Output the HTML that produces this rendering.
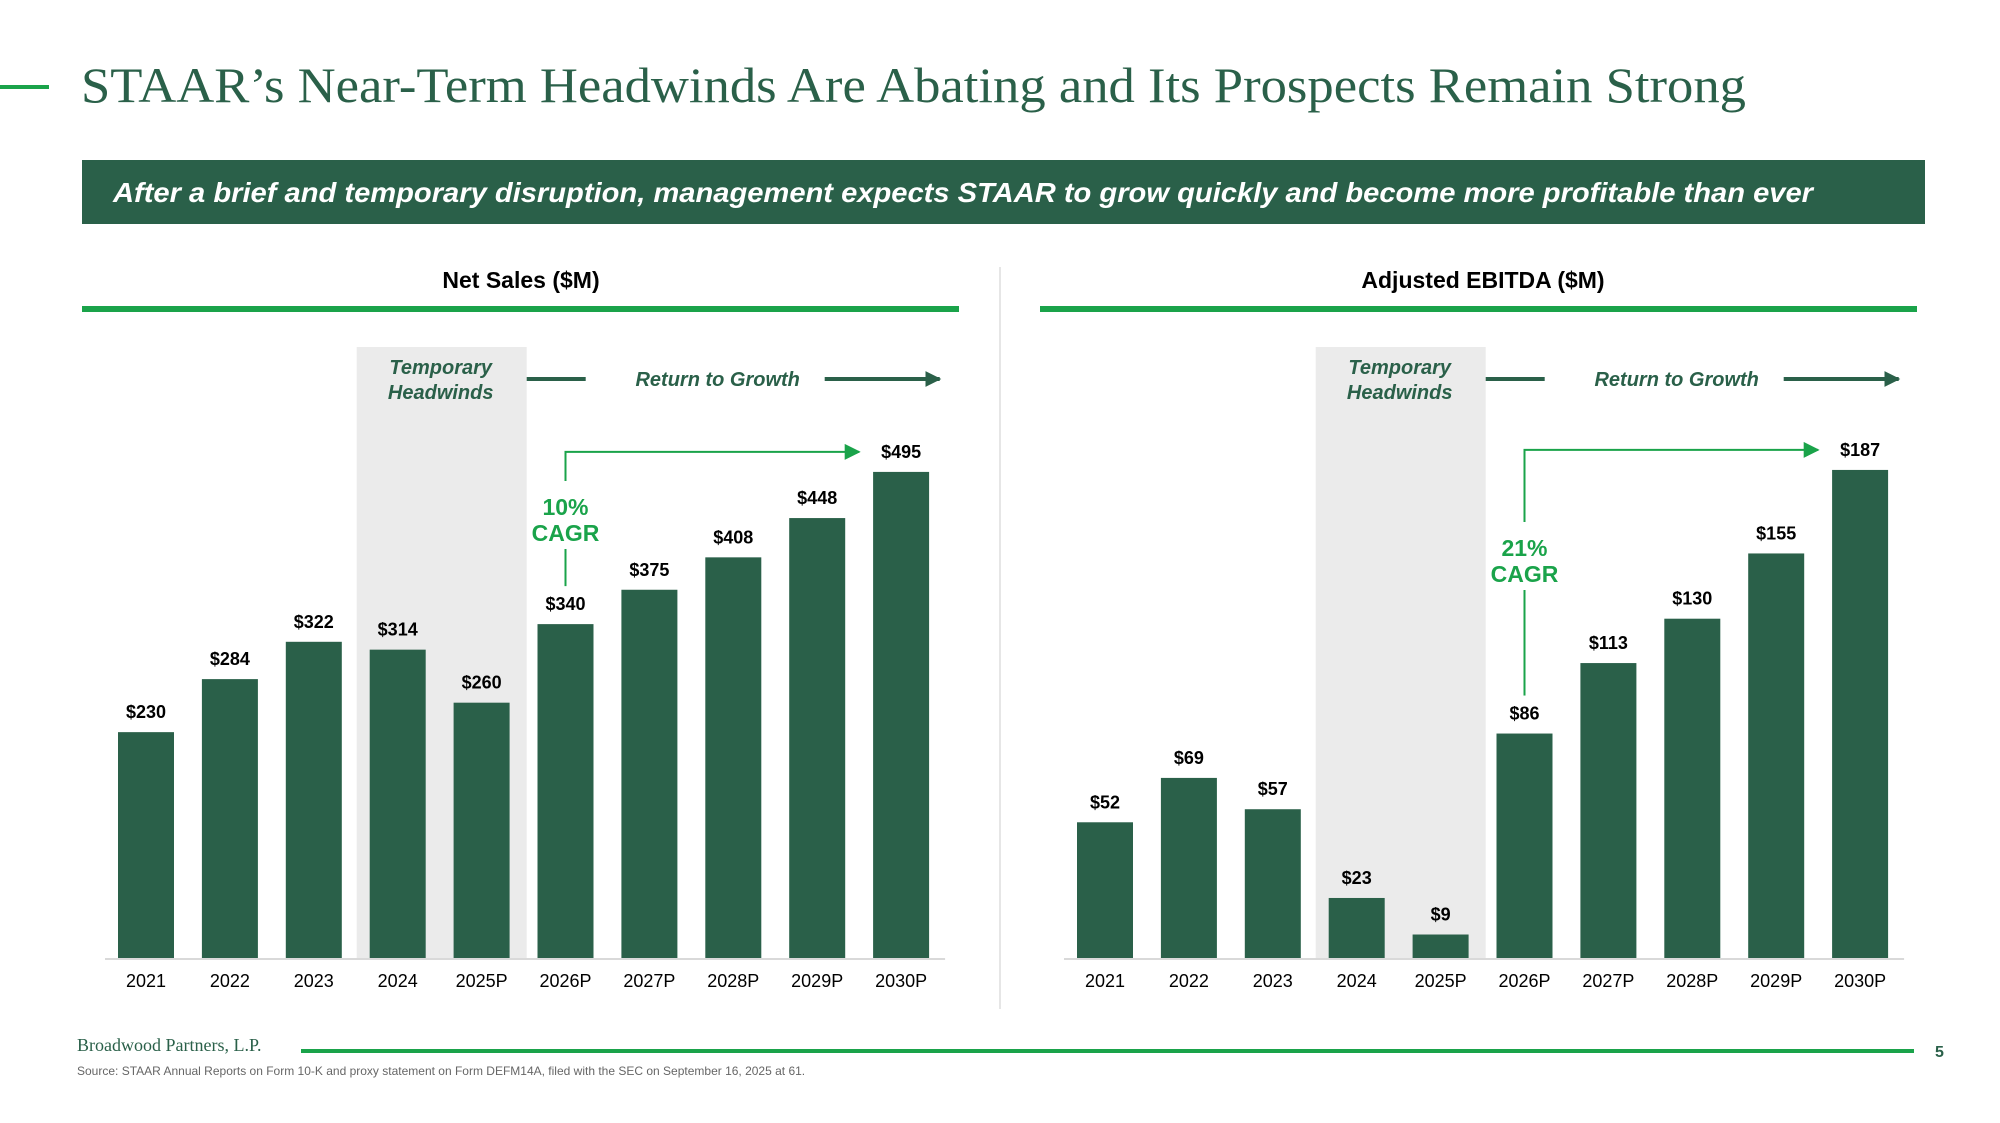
<!DOCTYPE html>
<html><head><meta charset="utf-8"><style>
html,body{margin:0;padding:0;background:#fff;width:2000px;height:1123px;overflow:hidden}
svg text{font-family:"Liberation Sans",sans-serif}
</style></head><body>
<svg id="s" width="2000" height="1123" viewBox="0 0 2000 1123" xmlns="http://www.w3.org/2000/svg">
<defs>
<marker id="ad" viewBox="0 0 10 10" refX="9" refY="5" markerWidth="4" markerHeight="4" orient="auto"><path d="M0,0L10,5L0,10z" fill="#2a6049"/></marker>
<marker id="ag" viewBox="0 0 10 10" refX="9" refY="5" markerWidth="8" markerHeight="8" orient="auto"><path d="M0,0L10,5L0,10z" fill="#1aa34a"/></marker>
</defs>
<rect x="0" y="85" width="49" height="4" fill="#1aa34a"/>
<text x="81" y="102" font-size="50" fill="#2a6049" textLength="1665" lengthAdjust="spacingAndGlyphs" style="font-family:'Liberation Serif',serif">STAAR’s Near-Term Headwinds Are Abating and Its Prospects Remain Strong</text>
<rect x="82" y="160" width="1843" height="64" fill="#2a6049"/>
<text x="113" y="202" font-size="28" font-weight="bold" font-style="italic" fill="#fff" textLength="1700" lengthAdjust="spacingAndGlyphs">After a brief and temporary disruption, management expects STAAR to grow quickly and become more profitable than ever</text>
<line x1="1000" y1="267" x2="1000" y2="1009" stroke="#e6e6e6" stroke-width="2"/>
<g id="charts"></g>
<text x="77" y="1051" font-size="18" fill="#2a6049" style="font-family:'Liberation Serif',serif">Broadwood Partners, L.P.</text>
<rect x="301" y="1049" width="1613" height="4" fill="#1aa34a"/>
<text x="1935" y="1057" font-size="16" font-weight="bold" fill="#2a6049">5</text>
<text x="77" y="1075" font-size="12" fill="#666">Source: STAAR Annual Reports on Form 10-K and proxy statement on Form DEFM14A, filed with the SEC on September 16, 2025 at 61.</text>
</svg>
<script>
const categories = ["2021","2022","2023","2024","2025P","2026P","2027P","2028P","2029P","2030P"];
const netSales = [230,284,322,314,260,340,375,408,448,495];
const ebitda = [52,69,57,23,9,86,113,130,155,187];
const netSalesLabels = ["$230","$284","$322","$314","$260","$340","$375","$408","$448","$495"];
const ebitdaLabels = ["$52","$69","$57","$23","$9","$86","$113","$130","$155","$187"];
const cagrLabels = ["10%","21%"];

const NS = "http://www.w3.org/2000/svg";
const root = document.getElementById('charts');
function el(tag, attrs, parent, txt){
  const e = document.createElementNS(NS, tag);
  for (const k in attrs) e.setAttribute(k, attrs[k]);
  if (txt !== undefined) e.textContent = txt;
  (parent || root).appendChild(e);
  return e;
}
function drawChart(cfg){
  const g = el('g', {});
  
  
  const base = 958, step = 83.9, bw = 56;
  const xc = i => cfg.x0 + i * step;
  const yv = v => base - v * cfg.scale;
  const t = el('text', {x: cfg.titleX, y: 288, 'font-size': 23, 'font-weight': 'bold', 'text-anchor': 'middle', fill: '#000'}, g, cfg.title);
  
  
  const r = el('rect', {x: cfg.ruleX, y: 306, width: 877, height: 6, fill: '#1aa34a'}, g);
  
  
  const band = el('rect', {x: xc(3) - 41, y: 347, width: 170, height: base - 347, fill: '#ebebeb'}, g);
  
  
  const h1 = el('text', {x: xc(3) + 43, y: 374, 'font-size': 20, 'font-weight': 'bold', 'font-style': 'italic', fill: '#2a6049', 'text-anchor': 'middle'}, g, 'Temporary');
  
  
  const h2 = el('text', {x: xc(3) + 43, y: 399, 'font-size': 20, 'font-weight': 'bold', 'font-style': 'italic', fill: '#2a6049', 'text-anchor': 'middle'}, g, 'Headwinds');
  
  
  const l1 = el('line', {x1: xc(3) + 129, y1: 379, x2: xc(3) + 188, y2: 379, stroke: '#2a6049', 'stroke-width': 4}, g);
  
  
  const rg = el('text', {x: xc(3) + 320, y: 386, 'font-size': 20, 'font-weight': 'bold', 'font-style': 'italic', fill: '#2a6049', 'text-anchor': 'middle'}, g, 'Return to Growth');
  
  
  const l2 = el('line', {x1: xc(3) + 427, y1: 379, x2: xc(3) + 542, y2: 379, stroke: '#2a6049', 'stroke-width': 4, 'marker-end': 'url(#ad)'}, g);
  
  
  const ax = el('line', {x1: cfg.x0 - 41, y1: base + 1, x2: xc(9) + 44, y2: base + 1, stroke: '#d9d9d9', 'stroke-width': 2}, g);
  
  
  cfg.values.forEach((v, i) => {
    const b = el('rect', {x: xc(i) - bw/2, y: yv(v), width: bw, height: v * cfg.scale, fill: '#2a6049'}, g);
    
    
    const vl = el('text', {x: xc(i), y: yv(v) - 14, 'font-size': 18, 'font-weight': 'bold', 'text-anchor': 'middle', fill: '#000'}, g, cfg.labels[i]);
    
    
    const cl = el('text', {x: xc(i), y: 987, 'font-size': 18, 'text-anchor': 'middle', fill: '#000'}, g, categories[i]);
    
    
  });
  const cx = xc(5), topY = 452;
  const lastTop = yv(cfg.values[9]);
  const arrowY = Math.min(topY, lastTop - 20);
  const p = el('path', {d: `M${cx},${cfg.cagrY - 34} L${cx},${arrowY} L${xc(9) - 42},${arrowY}`, fill: 'none', stroke: '#1aa34a', 'stroke-width': 2, 'marker-end': 'url(#ag)'}, g);
  
  
  const p2 = el('line', {x1: cx, y1: cfg.cagrY + 34, x2: cx, y2: yv(cfg.values[5]) - 38, stroke: '#1aa34a', 'stroke-width': 2}, g);
  
  
  const c1 = el('text', {x: cx, y: cfg.cagrY, 'font-size': 23, 'font-weight': 'bold', 'text-anchor': 'middle', fill: '#1aa34a'}, g, cfg.cagr);
  
  
  const c2 = el('text', {x: cx, y: cfg.cagrY + 26, 'font-size': 23, 'font-weight': 'bold', 'text-anchor': 'middle', fill: '#1aa34a'}, g, 'CAGR');
  
  
}
drawChart({name: 'net-sales-chart', title: 'Net Sales ($M)', titleX: 521, ruleX: 82, x0: 146, scale: 0.982, values: netSales, labels: netSalesLabels, cagr: cagrLabels[0], cagrY: 515});
drawChart({name: 'adjusted-ebitda-chart', title: 'Adjusted EBITDA ($M)', titleX: 1483, ruleX: 1040, x0: 1105, scale: 2.61, values: ebitda, labels: ebitdaLabels, cagr: cagrLabels[1], cagrY: 556});
</script>
</body></html>
